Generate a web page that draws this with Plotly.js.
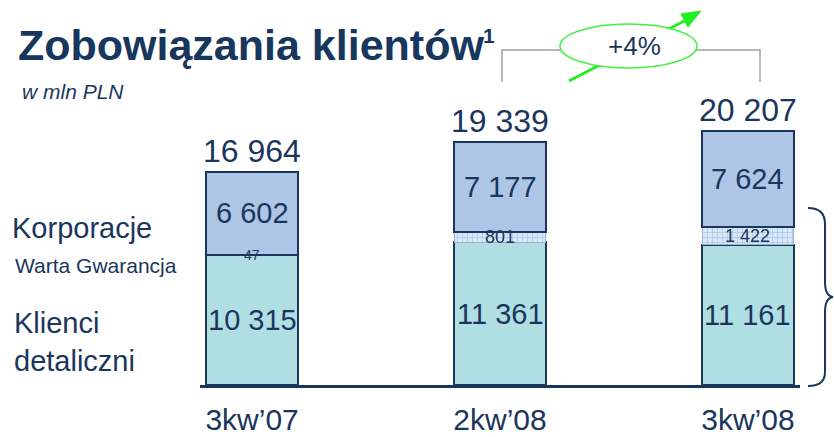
<!DOCTYPE html>
<html>
<head>
<meta charset="utf-8">
<script src="https://cdn.plot.ly/plotly-3.0.1.min.js"></script>
<style>html,body{margin:0;padding:0;background:#fff;}#chart{width:834px;height:437px;}</style>
</head>
<body>
<div id="chart"></div>
<script>
// ---- data ----
const categories = ["3kw\u201907", "2kw\u201908", "3kw\u201908"];
const klienciDetaliczni = [10315, 11361, 11161];
const wartaGwarancja = [47, 801, 1422];
const korporacje = [6602, 7177, 7624];
const seriesNames = ["Klienci detaliczni", "Warta Gwarancja", "Korporacje"];
const growthLabel = "+4%";

// ---- helpers ----
const NAVY = "#1b365d";
const FONT = "Liberation Sans, Arial, sans-serif";
const fmt = v => String(v).replace(/\B(?=(\d{3})+(?!\d))/g, "\u00a0");
const totals = categories.map((_, i) => klienciDetaliczni[i] + wartaGwarancja[i] + korporacje[i]);

// plot-area geometry (pixels) for decorations
const L = 200, R = 34, T = 60, B = 52, W = 834 - L - R, H = 437 - T - B;
const px = x => (x - L) / W;
const py = y => (437 - B - y) / H;

const traces = [
  {type: "bar", name: seriesNames[0], x: categories, y: klienciDetaliczni, width: 0.37,
   marker: {color: "#b0dfe3", line: {color: NAVY, width: 2}}, hoverinfo: "skip"},
  {type: "bar", name: seriesNames[1], x: categories, y: wartaGwarancja, width: 0.37,
   marker: {color: "#dbe7f5", line: {color: "#9fb3c8", width: 1},
            pattern: {shape: "+", fgcolor: "#9cc5f0", bgcolor: "#dbe7f5", size: 5, solidity: 0.25}},
   hoverinfo: "skip"},
  {type: "bar", name: seriesNames[2], x: categories, y: korporacje, width: 0.37,
   marker: {color: "#adc6e5", line: {color: NAVY, width: 2}}, hoverinfo: "skip"}
];

const ann = [];
// segment labels
categories.forEach((c, i) => {
  ann.push({x: c, y: klienciDetaliczni[i] / 2, text: fmt(klienciDetaliczni[i]), showarrow: false,
            font: {family: FONT, size: 29, color: NAVY}});
  ann.push({x: c, y: klienciDetaliczni[i] + wartaGwarancja[i] / 2, text: fmt(wartaGwarancja[i]), showarrow: false,
            font: {family: FONT, size: wartaGwarancja[i] < 100 ? 14 : 18, color: NAVY}});
  ann.push({x: c, y: klienciDetaliczni[i] + wartaGwarancja[i] + korporacje[i] / 2, text: fmt(korporacje[i]), showarrow: false,
            font: {family: FONT, size: 29, color: NAVY}});
  ann.push({x: c, y: totals[i], text: fmt(totals[i]), showarrow: false, yanchor: "bottom", yshift: 1,
            font: {family: FONT, size: 32, color: NAVY}});
});
// title & subtitle
ann.push({xref: "paper", yref: "paper", x: px(16), y: py(45), xanchor: "left", yanchor: "middle",
          text: "<b>Zobowiązania klientów</b>", showarrow: false,
          font: {family: FONT, size: 43, color: "#17375e"}});
ann.push({xref: "paper", yref: "paper", x: px(481), y: py(35), xanchor: "left", yanchor: "middle",
          text: "<b>1</b>", showarrow: false,
          font: {family: FONT, size: 21, color: "#17375e"}});
ann.push({xref: "paper", yref: "paper", x: px(20), y: py(91), xanchor: "left", yanchor: "middle",
          text: "<i>w mln PLN</i>", showarrow: false, font: {family: FONT, size: 21, color: NAVY}});
// series labels on the left
ann.push({xref: "paper", yref: "paper", x: px(10), y: py(228), xanchor: "left", yanchor: "middle",
          text: seriesNames[2], showarrow: false, font: {family: FONT, size: 29, color: NAVY}});
ann.push({xref: "paper", yref: "paper", x: px(13), y: py(265), xanchor: "left", yanchor: "middle",
          text: seriesNames[1], showarrow: false, font: {family: FONT, size: 21, color: NAVY}});
ann.push({xref: "paper", yref: "paper", x: px(12), y: py(342), xanchor: "left", yanchor: "middle", align: "left",
          text: seriesNames[0].replace(" ", "<br>"), showarrow: false, font: {family: FONT, size: 29, color: NAVY}});
// growth label
ann.push({xref: "paper", yref: "paper", x: px(634), y: py(46), xanchor: "center", yanchor: "middle",
          text: growthLabel, showarrow: false, font: {family: FONT, size: 26, color: NAVY}});

const shapes = [
  // bracket
  {type: "path", xref: "paper", yref: "paper",
   path: `M ${px(502)} ${py(82)} L ${px(502)} ${py(50)} L ${px(760)} ${py(50)} L ${px(760)} ${py(82)}`,
   line: {color: "#a0a0a0", width: 1.5}},
  // green arrow line
  {type: "line", xref: "paper", yref: "paper", x0: px(569), y0: py(81), x1: px(688), y1: py(19),
   line: {color: "#22ee22", width: 3}},
  // arrow head
  {type: "path", xref: "paper", yref: "paper",
   path: `M ${px(701)} ${py(11)} L ${px(688)} ${py(27)} L ${px(681)} ${py(14)} Z`,
   fillcolor: "#22ee22", line: {color: "#22ee22", width: 1}},
  // ellipse
  {type: "circle", xref: "paper", yref: "paper", x0: px(560), x1: px(697), y0: py(68), y1: py(24),
   fillcolor: "#ffffff", line: {color: "#44ee44", width: 1.5}},
  // right curly brace
  {type: "path", xref: "paper", yref: "paper",
   path: `M ${px(808)} ${py(208)} Q ${px(825)} ${py(208)} ${px(825)} ${py(224)} L ${px(825)} ${py(282)} Q ${px(825)} ${py(296)} ${px(833)} ${py(297)} Q ${px(825)} ${py(298)} ${px(825)} ${py(312)} L ${px(825)} ${py(372)} Q ${px(825)} ${py(386)} ${px(808)} ${py(386)}`,
   line: {color: NAVY, width: 2}}
];

const layout = {
  width: 834, height: 437,
  margin: {l: L, r: R, t: T, b: B, pad: 0},
  paper_bgcolor: "#ffffff", plot_bgcolor: "#ffffff",
  barmode: "stack", showlegend: false,
  xaxis: {type: "category", range: [-0.21, 2.21], showline: true, linecolor: NAVY, linewidth: 3,
          ticks: "", showgrid: false, zeroline: false, ticklabelstandoff: 6,
          tickfont: {family: FONT, size: 30, color: NAVY}},
  yaxis: {range: [0, 25855], showgrid: false, zeroline: false, showticklabels: false, showline: false, ticks: ""},
  annotations: ann,
  shapes: shapes
};

Plotly.newPlot("chart", traces, layout, {displayModeBar: false, staticPlot: true});
</script>
</body>
</html>
